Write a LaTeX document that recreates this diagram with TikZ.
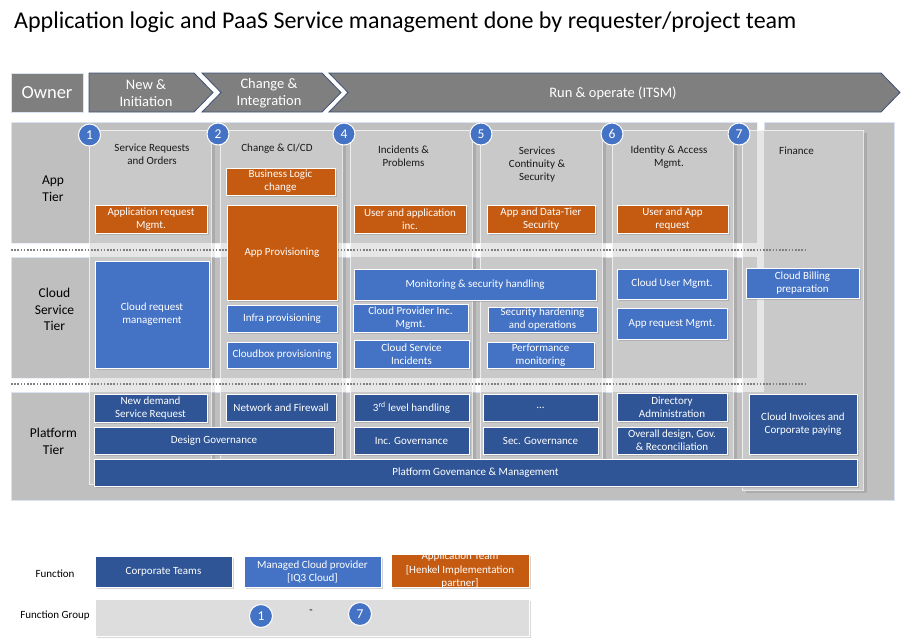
\documentclass[tikz,border=0pt]{standalone}
\usepackage{fontspec}
\setmainfont{Carlito}
\usetikzlibrary{shadows}
\definecolor{orng}{HTML}{C55A11}
\definecolor{mblue}{HTML}{4472C4}
\definecolor{dblue}{HTML}{2F5597}
\definecolor{hgray}{HTML}{7F7F7F}
\definecolor{hline}{HTML}{3E5179}
\definecolor{pgray}{HTML}{BFBFBF}
\definecolor{pline}{HTML}{DAE3F3}
\definecolor{cgray}{HTML}{C9C9C9}
\definecolor{lgray}{HTML}{DDDDDD}
\definecolor{dotc}{HTML}{808080}
\newcommand\bx[7]{\node[#6, minimum width={(#4-#2)*1pt}, minimum height={(#5-#3)*1pt}] (#1) at ({(#2+#4)/2},{(#3+#5)/2}) {#7};}
\tikzset{
  box/.style={draw=white, line width=0.8pt, text=white, align=center, inner sep=1pt,
    font=\fontsize{11}{13}\selectfont,
    drop shadow={shadow xshift=2pt, shadow yshift=-2pt, opacity=0.35}},
  ob/.style={box, fill=orng},
  mb/.style={box, fill=mblue},
  db/.style={box, fill=dblue},
  colbox/.style={draw=white, draw opacity=0.7, fill=cgray, line width=0.8pt, inner sep=0pt,
    drop shadow={shadow xshift=4pt, shadow yshift=-3pt, opacity=0.3}},
  circ/.style={circle, fill=mblue, draw=white, line width=1pt, minimum size=22pt, inner sep=0pt,
    text=white, font=\fontsize{13.5}{13.5}\selectfont},
  colhead/.style={align=center, text=black!90, font=\fontsize{11}{13}\selectfont, inner sep=0pt},
  tierlab/.style={align=center, text=black, font=\fontsize{13.5}{16.8}\selectfont, inner sep=0pt},
  chev/.style={fill=hgray, draw=hline, line width=0.8pt},
  chevtext/.style={align=center, text=white, font=\fontsize{14.5}{17.4}\selectfont, inner sep=0pt},
  legtext/.style={text=black, font=\fontsize{11}{13}\selectfont, inner sep=0pt},
  band/.style={fill=white, fill opacity=0.55},
  sepline/.style={draw=dotc, line width=1.6pt, dash pattern=on 1.6pt off 1.6pt}
}
\begin{document}
\begin{tikzpicture}[x=1pt,y=-1pt]
\useasboundingbox (0,0) rectangle (901,642);
% title
\node[anchor=west, inner sep=0pt, font=\fontsize{24}{28}\selectfont] (title) at (14,22.5) {Application logic and PaaS Service management done by requester/project team};
% header
\node[fill=hgray, draw=pline, line width=1pt, minimum width=72pt, minimum height=39pt, text=white, font=\fontsize{18.5}{20}\selectfont] (owner) at (47,92.5) {Owner};
\draw[chev] (89,73) -- (194,73) -- (213,92.5) -- (194,112) -- (89,112) -- cycle;
\draw[chev] (202,73) -- (322,73) -- (341,92.5) -- (322,112) -- (202,112) -- (221,92.5) -- cycle;
\draw[chev] (329,73) -- (881,73) -- (900,92.5) -- (881,112) -- (329,112) -- (348,92.5) -- cycle;
\node[chevtext] (ph1) at (146,93) {New \&\\Initiation};
\node[chevtext] (ph2) at (269,93) {Change \&\\Integration};
\node[chevtext] (ph3) at (613,93.5) {Run \& operate (ITSM)};
% background panels
\fill[pgray, draw=pline, line width=1pt] (11,122) rectangle (757,243);
\fill[pgray, draw=pline, line width=1pt] (11,257) rectangle (757,378);
\fill[pgray, draw=pline, line width=1pt] (11,392) -- (764,392) -- (764,122) -- (894,122) -- (894,500) -- (11,500) -- cycle;
% columns
\bx{col1}{89}{130}{211}{484}{colbox}{}
\bx{col2}{220}{130}{342}{484}{colbox}{}
\bx{col3}{350}{130}{472}{484}{colbox}{}
\bx{col4}{480}{130}{602}{484}{colbox}{}
\bx{col5}{612}{130}{733}{484}{colbox}{}
\bx{col6}{742}{130}{863}{490}{colbox}{}
% light bands
\fill[band] (11,243) rectangle (757,257);
\fill[band] (11,378) rectangle (757,392);
\fill[band] (757,122) rectangle (764,392);
\coordinate (s1a) at (11,250); \coordinate (s1b) at (807,250);
\coordinate (s2a) at (11,384); \coordinate (s2b) at (807,384);
\draw[sepline] (s1a) -- (s1b);
\draw[sepline] (s2a) -- (s2b);
% tier labels
\node[tierlab] (t1) at (53,189) {App\\Tier};
\node[tierlab] (t2) at (54.5,309.5) {Cloud\\Service\\Tier};
\node[tierlab] (t3) at (53.5,441) {Platform\\Tier};
% column headers
\node[colhead] (h1) at (152,154) {Service Requests\\and Orders};
\node[colhead] (h2) at (277,148.5) {Change \& CI/CD};
\node[colhead] (h3) at (403.5,156) {Incidents \&\\Problems};
\node[colhead] (h4) at (537,164.5) {Services\\Continuity \&\\Security};
\node[colhead] (h5) at (669,157) {Identity \& Access\\Mgmt.};
\node[colhead] (h6) at (796.5,150.5) {Finance};
% App tier boxes
\bx{a1}{95}{205}{207}{233}{ob}{Application request\\Mgmt.}
\bx{a2}{226}{168}{335}{195}{ob}{Business Logic\\change}
\bx{a3}{227}{205}{337}{300}{ob}{App Provisioning}
\bx{a4}{354}{205}{466}{233}{ob}{User and application\\inc.}
\bx{a5}{487}{205}{595}{233}{ob}{App and Data-Tier\\Security}
\bx{a6}{617}{205}{728}{233}{ob}{User and App\\request}
% Cloud tier boxes
\bx{c1}{95}{261}{209}{368}{mb}{Cloud request\\management}
\bx{c2}{227}{305}{337}{332}{mb}{Infra provisioning}
\bx{c3}{227}{342}{337}{368}{mb}{Cloudbox provisioning}
\bx{c4}{354}{269}{596}{300}{mb}{Monitoring \& security handling}
\bx{c5}{353}{304}{468}{332}{mb}{Cloud Provider Inc.\\Mgmt.}
\bx{c6}{354}{340}{469}{368}{mb}{Cloud Service\\Incidents}
\bx{c7}{488}{307}{597}{332}{mb}{Security hardening\\and operations}
\bx{c8}{487}{342}{594}{368}{mb}{Performance\\monitoring}
\bx{c9}{617}{269}{727}{299}{mb}{Cloud User Mgmt.}
\bx{c10}{617}{308}{727}{339}{mb}{App request Mgmt.}
\bx{c11}{746}{268}{859}{298}{mb}{Cloud Billing\\preparation}
% Platform tier boxes
\bx{p1}{94}{394}{207}{422}{db}{New demand\\Service Request}
\bx{p2}{226}{394}{336}{421}{db}{Network and Firewall}
\bx{p3}{94}{427}{334}{454}{db}{Design Governance}
\bx{p4}{354}{394}{469}{421}{db}{3\textsuperscript{rd} level handling}
\bx{p5}{354}{427}{469}{454}{db}{Inc. Governance}
\bx{p6}{483}{394}{598}{421}{db}{...}
\bx{p7}{483}{427}{598}{454}{db}{Sec. Governance}
\bx{p8}{617}{393}{727}{421}{db}{Directory\\Administration}
\bx{p9}{617}{427}{727}{454}{db}{Overall design, Gov.\\\& Reconciliation}
\bx{p10}{749}{394}{857}{454}{db}{Cloud Invoices and\\Corporate paying}
\bx{p11}{94}{459}{857}{486}{db}{Platform Govemance \& Management}
% number circles
\node[circ] (n1) at (89.5,135) {1};
\node[circ] (n2) at (218,134) {2};
\node[circ] (n4) at (344,134) {4};
\node[circ] (n5) at (481,134) {5};
\node[circ] (n6) at (612,134) {6};
\node[circ] (n7) at (739,134) {7};
% legend
\node[legtext] (lf) at (55,573.5) {Function};
\node[legtext] (lfg) at (55,616) {Function Group};
\bx{l1}{95}{556}{232}{587}{db}{Corporate Teams}
\bx{l2}{244}{556}{381}{587}{mb}{Managed Cloud provider\\{[IQ3 Cloud]}}
\node[box, fill=orng, minimum width=138pt, minimum height=33pt,
  label={[text=white, align=center, font=\fontsize{11}{13.5}\selectfont]center:{Application Team\\{[Henkel Implementation}\\{partner]}}}] (l3) at (460,570.5) {};
\node[fill=lgray, draw=white, line width=0.8pt, minimum width=434pt, minimum height=37pt,
  drop shadow={shadow xshift=2pt, shadow yshift=-2pt, opacity=0.3}] (lg) at (312,617.5) {};
\node[circ, minimum size=23pt] (ln1) at (261,616) {1};
\node[legtext] (ldash) at (311,612) {-};
\node[circ, minimum size=23pt] (ln7) at (360,614) {7};
\end{tikzpicture}
\end{document}
